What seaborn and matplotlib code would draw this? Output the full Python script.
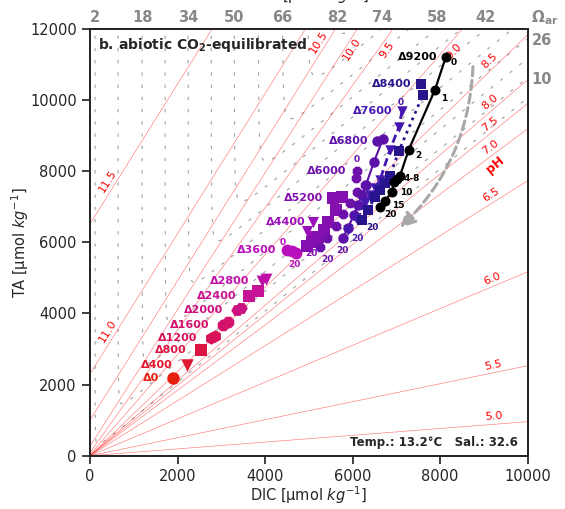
import numpy as np
import pandas as pd
import matplotlib
matplotlib.use("Agg")
import matplotlib.pyplot as plt
import seaborn as sns
from matplotlib.patches import FancyArrowPatch

# ---------------- values ----------------
# pH isolines: TA = intercept + slope * DIC
ph_levels = ["11.5", "11.0", "10.5", "10.0", "9.5", "9.0", "8.5", "8.0",
             "7.5", "7.0", "6.5", "6.0", "5.5", "5.0"]
ph_slope = [1.965, 1.97, 1.96, 1.92, 1.72, 1.406, 1.183, 1.057,
            0.99, 0.919, 0.773, 0.517, 0.253, 0.0956]
ph_intercept = [6520, 2300, 1000, 270, 90, 30, 0, 0, 0, 0, 0, 0, 0, 0]

# aragonite saturation isolines (vertical asymptote DIC, diagonal TA-DIC offset)
omega_levels = [2, 10, 18, 26, 34, 42, 50, 58, 66, 74, 82]
omega_dic = [114, 640, 1189, 1714, 2240, 2766, 3291, 3840, 4389, 4960, 5554]
omega_offset = [60, 630, 1170, 1720, 2340, 2950, 3510, 4070, 4690, 5300, 5880]
omega_top_left = [2, 18, 34, 50, 66, 82]
omega_top_right = [74, 58, 42]
omega_right = [26, 10]

# experiment groups (alkalinity addition)
names = ["Δ0", "Δ400", "Δ800", "Δ1200", "Δ1600", "Δ2000", "Δ2400", "Δ2800",
         "Δ3600", "Δ4400", "Δ5200", "Δ6000", "Δ6800", "Δ7600", "Δ8400", "Δ9200"]
colors = ["#e8200e", "#e01830", "#dc1444", "#d81258", "#d4126c", "#cc1280",
          "#c61294", "#be10a8", "#b810bc", "#9a10b8", "#8410b0", "#6e10aa",
          "#5c12a8", "#4618b0", "#28148c", "#000000"]
markers = ["o", "v", "s", "h", "8", "H", "s", "v",
           "o", "v", "s", "8", "o", "v", "s", "o"]
msizes = [9, 9, 9, 9, 9, 9, 8.5, 8.5, 8.5, 8, 8, 7.5, 7.5, 7.5, 7.5, 7.2]

dic_d0 = [1897]
ta_d0 = [2187]
dic_d400 = [2217]
ta_d400 = [2553]
dic_d800 = [2526]
ta_d800 = [2961]
dic_d1200 = [2766, 2857]
ta_d1200 = [3313, 3369]
dic_d1600 = [3040, 3154]
ta_d1600 = [3679, 3763]
dic_d2000 = [3360, 3451]
ta_d2000 = [4101, 4157]
dic_d2400 = [3623, 3840]
ta_d2400 = [4495, 4636]
dic_d2800 = [3931, 4023]
ta_d2800 = [4917, 4973]
dic_d3600 = [4503, 4617, 4709]
ta_d3600 = [5790, 5748, 5706]
dic_d4400 = [5097, 4960, 5029]
ta_d4400 = [6578, 6324, 6183]
dic_d5200 = [5554, 5760, 5623, 5440, 5349, 5211, 5074, 4960]
ta_d5200 = [7253, 7281, 6916, 6578, 6352, 6155, 6015, 5903]
dic_d6000 = [6103, 6080, 6286, 6103, 5943, 5783, 5623, 5417, 5257]
ta_d6000 = [8013, 7816, 7619, 7422, 7112, 6803, 6465, 6128, 5875]
dic_d6800 = [6560, 6697, 6491, 6309, 6217, 6126, 6034, 5897, 5783]
ta_d6800 = [8857, 8913, 8266, 7619, 7337, 7056, 6775, 6409, 6128]
dic_d7600 = [7131, 7063, 6857, 6629, 6514, 6400, 6286, 6080, 5897]
ta_d7600 = [9702, 9252, 8604, 7760, 7535, 7337, 7112, 6690, 6352]
dic_d8400 = [7566, 7611, 7063, 6857, 6743, 6629, 6514, 6354, 6217]
ta_d8400 = [10462, 10152, 8576, 7872, 7675, 7478, 7281, 6916, 6634]
dic_d9200 = [8130, 7886, 7280, 7086, 7017, 6949, 6903, 6743, 6629]
ta_d9200 = [11202, 10292, 8590, 7872, 7788, 7703, 7422, 7169, 7000]

dic_all = [dic_d0, dic_d400, dic_d800, dic_d1200, dic_d1600, dic_d2000,
           dic_d2400, dic_d2800, dic_d3600, dic_d4400, dic_d5200, dic_d6000,
           dic_d6800, dic_d7600, dic_d8400, dic_d9200]
ta_all = [ta_d0, ta_d400, ta_d800, ta_d1200, ta_d1600, ta_d2000,
          ta_d2400, ta_d2800, ta_d3600, ta_d4400, ta_d5200, ta_d6000,
          ta_d6800, ta_d7600, ta_d8400, ta_d9200]

line_styles = {"Δ6800": "-", "Δ7600": (0, (3, 1.5)), "Δ8400": (0, (1, 1.6)), "Δ9200": "-"}
line_widths = {"Δ6800": 1.5, "Δ7600": 2.0, "Δ8400": 2.0, "Δ9200": 1.6}

# time labels: (group, point index, text, dx pt, dy pt, ha)
time_labels = [
    ("Δ9200", 0, "0", 3.6, -3.8, "left"),
    ("Δ9200", 1, "1", 4.3, -6.5, "left"),
    ("Δ9200", 2, "2", 4.7, -4.0, "left"),
    ("Δ9200", 4, "4-8", 4.5, 0.5, "left"),
    ("Δ9200", 6, "10", 5.5, -0.8, "left"),
    ("Δ9200", 7, "15", 5.0, -3.6, "left"),
    ("Δ9200", 8, "20", 3.0, -5.8, "left"),
    ("Δ8400", 8, "20", 7.2, -5.8, "center"),
    ("Δ7600", 8, "20", 6.5, -6.5, "center"),
    ("Δ6800", 8, "20", -0.7, -9.4, "center"),
    ("Δ6000", 8, "20", 5.0, -9.4, "center"),
    ("Δ5200", 7, "20", 2.9, -5.8, "center"),
    ("Δ3600", 2, "20", -1.4, -8.6, "center"),
    ("Δ7600", 0, "0", -0.7, 5.8, "center"),
    ("Δ6000", 0, "0", 0.0, 8.0, "center"),
    ("Δ3600", 0, "0", -2.9, 5.0, "center"),
]
name_offsets = [-10, -10, -10, -10, -10, -10, -9, -9, -8, -5, -7, -8, -6, -7, -7, -6]

arrow_start = (8754, 10940)
arrow_end = (7086, 6409)

# ---------------- figure ----------------
sns.set_theme(style="ticks")
plt.rcParams["font.family"] = ["DejaVu Sans"]
plt.rcParams["mathtext.fontset"] = "dejavusans"

W, H = 565, 509
fig = plt.figure(figsize=(W / 100, H / 100), dpi=100)
ax = fig.add_axes([90 / W, 1 - 455.7 / H, 437.5 / W, 426.7 / H])
ax.set_xlim(0, 10000)
ax.set_ylim(0, 12000)

# Omega_ar isolines (grey dashed)
s = np.geomspace(0.01, 30000, 1500)
top_left_pos, top_right_pos, right_pos = {}, {}, {}
for lev, a, b in zip(omega_levels, omega_dic, omega_offset):
    k = 8 * a + 4000
    xs = a + s
    ys = xs + b + k / s
    ax.plot(xs, ys, color="#a0a0a0", lw=0.8, ls=(0, (3, 8)), zorder=1)
    D = 12000 - a - b
    disc = max(D * D - 4 * k, 0)
    top_left_pos[lev] = a + (D - np.sqrt(disc)) / 2
    top_right_pos[lev] = a + (D + np.sqrt(disc)) / 2
    right_pos[lev] = 10000 + b + k / (10000 - a)

# pH isolines (red)
xline = np.linspace(0, 10000, 400)
for lev, m, c0 in zip(ph_levels, ph_slope, ph_intercept):
    ax.plot(xline, c0 + m * xline, color="#ff2020", lw=0.45, alpha=0.6, zorder=1)


def screen_angle(m):
    p0 = ax.transData.transform((0, 0))
    p1 = ax.transData.transform((1000, 1000 * m))
    return np.degrees(np.arctan2(p1[1] - p0[1], p1[0] - p0[0]))


ph_label_side = {"10.0": -4.5, "9.5": -5.5, "9.0": -6.0}
for lev, m, c0 in zip(ph_levels, ph_slope, ph_intercept):
    if lev in ("11.5", "11.0"):
        xl = 550
    elif lev in ("10.5", "10.0", "9.5", "9.0"):
        xl = (11520 - c0) / m
    else:
        xl = 9250
    yl = c0 + m * xl
    th = screen_angle(m)
    d = ph_label_side.get(lev, 5.5)
    ax.annotate(lev, xy=(xl, yl),
                xytext=(-np.sin(np.radians(th)) * d, np.cos(np.radians(th)) * d),
                textcoords="offset points", rotation=th, ha="center", va="center",
                color="red", fontsize=8, zorder=2)

ax.text(9257, 8182, "pH", color="red", fontsize=9, fontweight="bold",
        rotation=40, ha="center", va="center", zorder=2)

# experiment data
rows = []
for g, dl, tl in zip(names, dic_all, ta_all):
    for i, (dv, tv) in enumerate(zip(dl, tl)):
        rows.append({"group": g, "idx": i, "DIC": dv, "TA": tv})
df = pd.DataFrame(rows)

for gi, (g, c, mk, ms) in enumerate(zip(names, colors, markers, msizes)):
    sub = df[df["group"] == g]
    if g in line_styles:
        sns.lineplot(data=sub, x="DIC", y="TA", sort=False, estimator=None,
                     color=c, lw=line_widths[g], linestyle=line_styles[g],
                     ax=ax, zorder=3 + gi * 0.01)
    sns.scatterplot(data=sub, x="DIC", y="TA", marker=mk, s=ms ** 2, color=c,
                    edgecolor=c, linewidth=0, ax=ax, zorder=3.005 + gi * 0.01,
                    legend=False)
    ax.annotate(g, xy=(sub["DIC"].iloc[0], sub["TA"].iloc[0]),
                xytext=(name_offsets[gi], 0), textcoords="offset points",
                ha="right", va="center", color=c, fontsize=8,
                fontweight="bold", zorder=5)

for g, i, txt, dx, dy, ha in time_labels:
    gi = names.index(g)
    sub = df[df["group"] == g]
    ax.annotate(txt, xy=(sub["DIC"].iloc[i], sub["TA"].iloc[i]),
                xytext=(dx, dy), textcoords="offset points", ha=ha, va="center",
                color=colors[gi], fontsize=6.5, fontweight="bold", zorder=5)

# curved grey arrow
arr = FancyArrowPatch(posA=arrow_start, posB=arrow_end,
                      connectionstyle="arc3,rad=-0.2",
                      arrowstyle="-|>,head_length=0.6,head_width=0.3",
                      mutation_scale=15, color="#a8a8a8", lw=2.2,
                      linestyle=(0, (3, 1.5)), shrinkA=0, shrinkB=0, zorder=4)
ax.add_patch(arr)

# texts
ax.text(0.018, 0.9625, r"b. abiotic CO$_{\mathbf{2}}$-equilibrated",
        transform=ax.transAxes, fontsize=10, fontweight="bold",
        ha="left", va="center", zorder=6)
ax.text(0.978, 0.030, "Temp.: 13.2°C   Sal.: 32.6", transform=ax.transAxes,
        fontsize=8.5, fontweight="bold", ha="right", va="center", zorder=6)

# axes formatting
ax.set_xticks(range(0, 10001, 2000))
ax.set_yticks(range(0, 12001, 2000))
ax.tick_params(labelsize=10.5)
ax.set_xlabel(r"DIC [µmol $kg^{-1}$]", fontsize=10.5, labelpad=0.5)
ax.set_ylabel(r"TA [µmol $kg^{-1}$]", fontsize=10.5, labelpad=-1)

grey = "#888888"
axt = ax.twiny()
axt.set_xlim(ax.get_xlim())
tpos = [top_left_pos[v] for v in omega_top_left] + [top_right_pos[v] for v in omega_top_right]
tlab = [str(v) for v in omega_top_left] + [str(v) for v in omega_top_right]
axt.set_xticks(tpos)
axt.set_xticklabels(tlab)
axt.tick_params(axis="x", length=0, pad=3, labelsize=10.5, labelcolor=grey)
for t in axt.get_xticklabels():
    t.set_fontweight("bold")

axr = ax.twinx()
axr.set_ylim(ax.get_ylim())
axr.set_yticks([right_pos[v] for v in omega_right])
axr.set_yticklabels([str(v) for v in omega_right])
axr.tick_params(axis="y", length=0, pad=3, labelsize=10.5, labelcolor=grey)
for t in axr.get_yticklabels():
    t.set_fontweight("bold")

ax.text(1.04, 1.026, r"Ω$_{\mathbf{ar}}$", transform=ax.transAxes, color=grey,
        fontsize=11, fontweight="bold", ha="center", va="center")

fig.text(311 / W, 1 - 1.5 / H, r"DIC [µmol $kg^{-1}$]", ha="center",
         va="baseline", fontsize=10.5)

fig.savefig("out.png", dpi=100)
